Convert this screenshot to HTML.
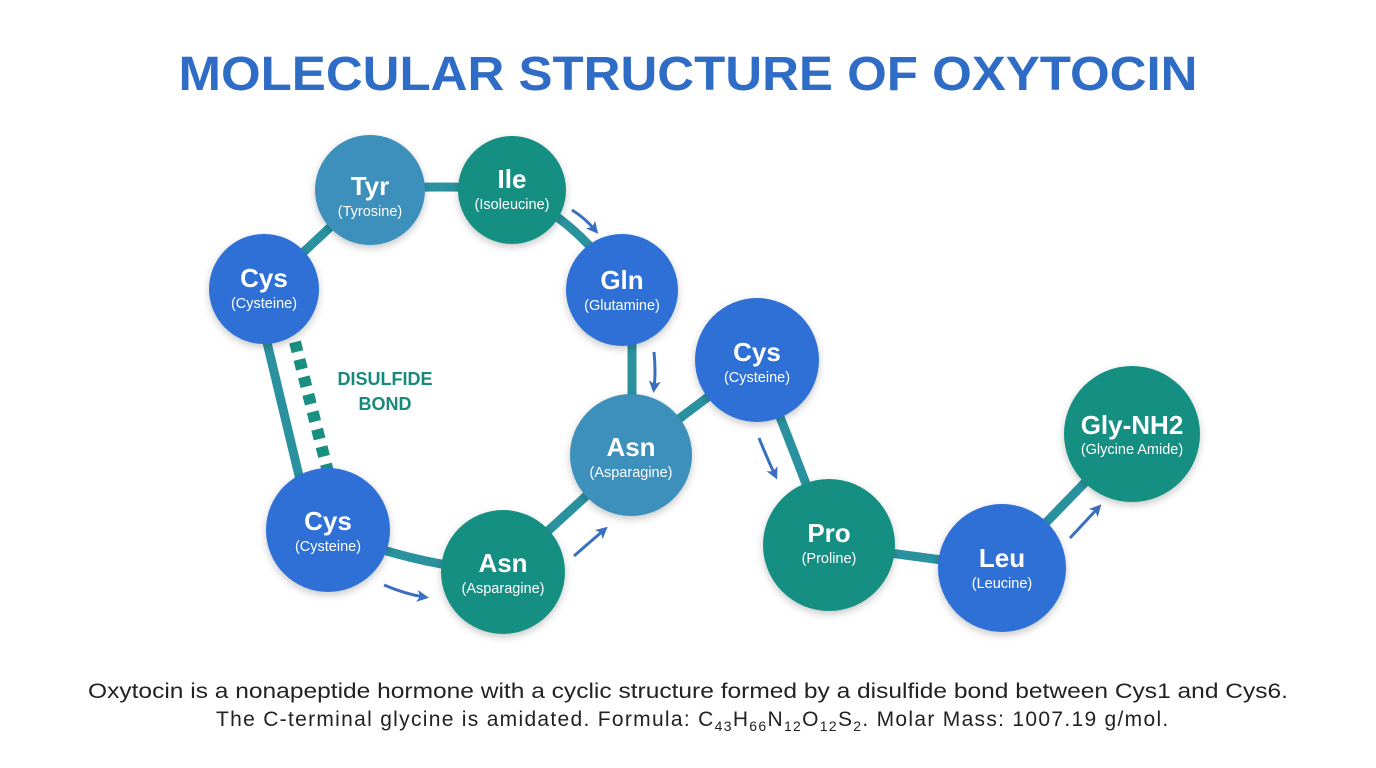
<!DOCTYPE html>
<html><head><meta charset="utf-8"><style>
body{margin:0;width:1376px;height:768px;background:#fff;overflow:hidden;font-family:"Liberation Sans",sans-serif}
svg{position:absolute;left:0;top:0}
.t{font-family:"Liberation Sans",sans-serif;fill:#fff;text-anchor:middle}
.b{font-weight:bold;font-size:26px}
.s{font-size:14.5px}
</style></head><body>
<svg width="1376" height="768" viewBox="0 0 1376 768">
<defs>
<filter id="sh" x="-30%" y="-30%" width="160%" height="160%"><feDropShadow dx="0" dy="3" stdDeviation="4" flood-color="#000" flood-opacity="0.22"/></filter>
<marker id="ah" markerWidth="14" markerHeight="14" refX="7" refY="6" orient="auto" markerUnits="userSpaceOnUse"><path d="M0,0 L12,6 L0,12 L3,6 Z" fill="#3a6fc0"/></marker>
</defs>
<text x="688" y="90" text-anchor="middle" font-family="Liberation Sans,sans-serif" font-weight="bold" font-size="48" fill="#2f6cc6" textLength="1019" lengthAdjust="spacingAndGlyphs">MOLECULAR STRUCTURE OF OXYTOCIN</text>
<g stroke="#2a929f" stroke-width="9" fill="none" stroke-linecap="round">
<line x1="264" y1="289" x2="370" y2="190"/>
<path d="M370,190 Q440,184 512,190"/>
<path d="M512,190 Q585,225 622,290"/>
<line x1="632" y1="290" x2="632" y2="455"/>
<line x1="631" y1="455" x2="757" y2="360"/>
<path d="M757,360 Q790,440 829,545"/>
<line x1="829" y1="545" x2="1002" y2="568"/>
<line x1="1002" y1="568" x2="1132" y2="434"/>
<path d="M328,530 Q410,565 503,572"/>
<line x1="503" y1="572" x2="631" y2="455"/>
<line x1="264" y1="330" x2="300" y2="480"/>
</g>
<line x1="295" y1="342" x2="328" y2="472" stroke="#188f80" stroke-width="12" stroke-dasharray="10,8"/>
<text x="385" y="385" text-anchor="middle" font-family="Liberation Sans,sans-serif" font-weight="bold" font-size="18" fill="#178a7c">DISULFIDE</text>
<text x="385" y="410" text-anchor="middle" font-family="Liberation Sans,sans-serif" font-weight="bold" font-size="18" fill="#178a7c">BOND</text>
<g stroke="#3a6fc0" stroke-width="3" fill="none" marker-end="url(#ah)">
<path d="M572,210 Q585,218 595,230"/>
<path d="M654,352 Q656,372 654,388"/>
<path d="M384,585 Q405,594 424,597"/>
<path d="M574,556 Q590,542 604,530"/>
<path d="M759,438 Q767,458 775,475"/>
<path d="M1070,538 Q1085,522 1098,508"/>
</g>
<g filter="url(#sh)">
<circle cx="264" cy="289" r="55" fill="#2e6fd6"/>
<circle cx="370" cy="190" r="55" fill="#3c8fbc"/>
<circle cx="512" cy="190" r="54" fill="#168f83"/>
<circle cx="622" cy="290" r="56" fill="#2e6fd6"/>
<circle cx="631" cy="455" r="61" fill="#3c8fbc"/>
<circle cx="328" cy="530" r="62" fill="#2e6fd6"/>
<circle cx="503" cy="572" r="62" fill="#168f83"/>
<circle cx="757" cy="360" r="62" fill="#2e6fd6"/>
<circle cx="829" cy="545" r="66" fill="#168f83"/>
<circle cx="1002" cy="568" r="64" fill="#2e6fd6"/>
<circle cx="1132" cy="434" r="68" fill="#168f83"/>
</g>
<text class="t b" x="264" y="287">Cys</text><text class="t s" x="264" y="308">(Cysteine)</text>
<text class="t b" x="370" y="195">Tyr</text><text class="t s" x="370" y="216">(Tyrosine)</text>
<text class="t b" x="512" y="188">Ile</text><text class="t s" x="512" y="209">(Isoleucine)</text>
<text class="t b" x="622" y="289">Gln</text><text class="t s" x="622" y="310">(Glutamine)</text>
<text class="t b" x="631" y="456">Asn</text><text class="t s" x="631" y="477">(Asparagine)</text>
<text class="t b" x="328" y="530">Cys</text><text class="t s" x="328" y="551">(Cysteine)</text>
<text class="t b" x="503" y="572">Asn</text><text class="t s" x="503" y="593">(Asparagine)</text>
<text class="t b" x="757" y="361">Cys</text><text class="t s" x="757" y="382">(Cysteine)</text>
<text class="t b" x="829" y="542">Pro</text><text class="t s" x="829" y="563">(Proline)</text>
<text class="t b" x="1002" y="567">Leu</text><text class="t s" x="1002" y="588">(Leucine)</text>
<text class="t b" x="1132" y="434">Gly-NH2</text><text class="t s" x="1132" y="454">(Glycine Amide)</text>
<text x="688" y="698" text-anchor="middle" font-family="Liberation Sans,sans-serif" font-size="21" fill="#222" textLength="1200" lengthAdjust="spacingAndGlyphs">Oxytocin is a nonapeptide hormone with a cyclic structure formed by a disulfide bond between Cys1 and Cys6.</text>
<text x="216" y="726" font-family="Liberation Sans,sans-serif" font-size="21" fill="#222" letter-spacing="1.3">The C-terminal glycine is amidated. Formula: C<tspan font-size="14" dy="5">43</tspan><tspan dy="-5">H</tspan><tspan font-size="14" dy="5">66</tspan><tspan dy="-5">N</tspan><tspan font-size="14" dy="5">12</tspan><tspan dy="-5">O</tspan><tspan font-size="14" dy="5">12</tspan><tspan dy="-5">S</tspan><tspan font-size="14" dy="5">2</tspan><tspan dy="-5">.  Molar Mass: 1007.19 g/mol.</tspan></text>
</svg>
</body></html>
